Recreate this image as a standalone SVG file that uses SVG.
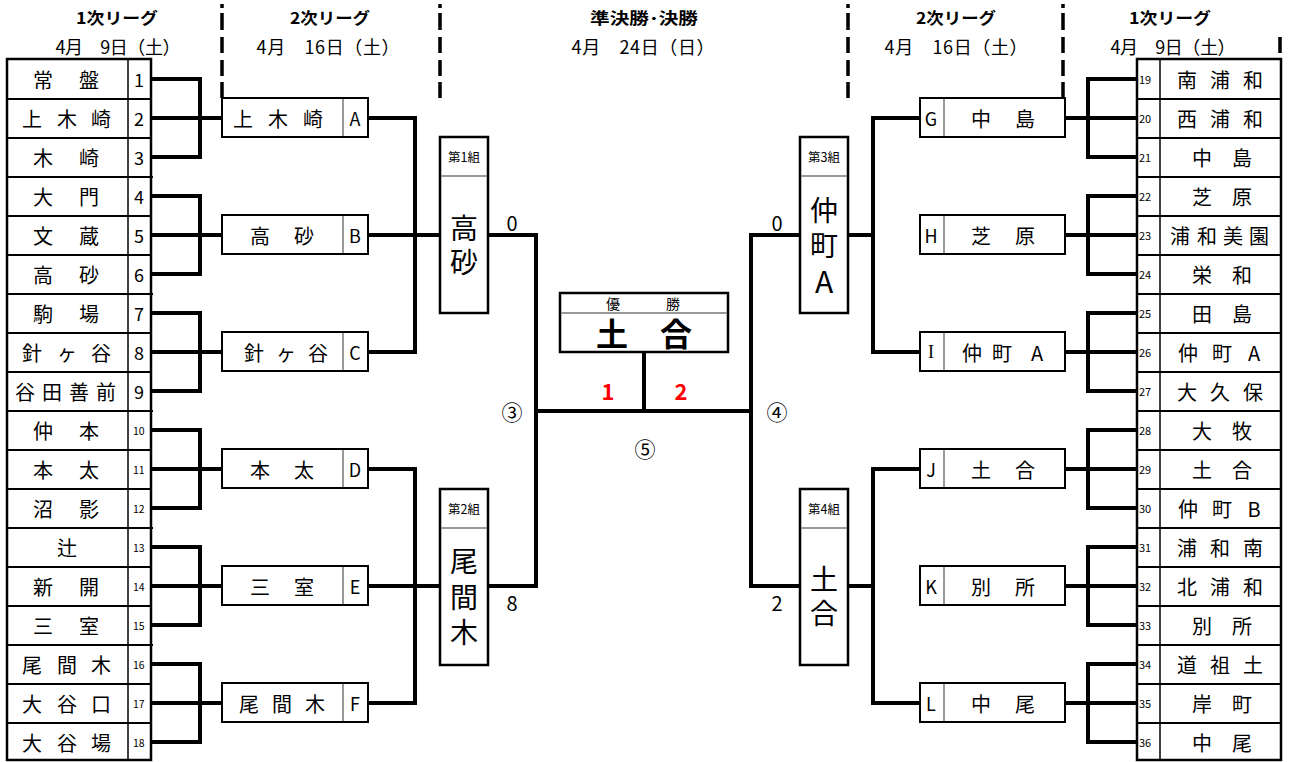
<svg xmlns="http://www.w3.org/2000/svg" width="1291" height="762" viewBox="0 0 1291 762">
<style>
text{font-family:"Noto Sans CJK JP","Noto Sans",sans-serif;fill:#000;dominant-baseline:central}
.ln{stroke:#000;stroke-width:4;fill:none;stroke-linejoin:miter}
.bx{fill:#fff;stroke:#000;stroke-width:2}
.gb{fill:#fff;stroke:#000;stroke-width:2.5}
.tb{fill:none;stroke:#000;stroke-width:2.5}
.rl{stroke:#000;stroke-width:2}
.rt{stroke:#000;stroke-width:1.5}
.sep{stroke:#999;stroke-width:2}
.dash{stroke:#000;stroke-width:3.5}
.nm{font-size:20px;text-anchor:middle}
.n1{font-size:18px;text-anchor:start}
.n2{font-size:10.5px;text-anchor:start}
.n3{font-size:11px;text-anchor:start}
.lt{font-size:18px;text-anchor:middle}
.ttl{font-size:16px;font-weight:bold;text-anchor:middle}
.dt{font-size:18px;text-anchor:middle}
.big{font-size:28px;text-anchor:middle}
.gl{font-size:12.5px;text-anchor:middle}
.sc{font-size:20px;text-anchor:middle}
.cn{font-size:21px;text-anchor:middle}
.red{font-size:22px;font-weight:bold;fill:#f00;text-anchor:middle}
</style>

<g id="headers">
<text class="ttl" x="117" y="17" textLength="82" lengthAdjust="spacingAndGlyphs">1次リーグ</text>
<text class="dt" x="118" y="46" textLength="125" lengthAdjust="spacing">4月　9日（土）</text>
<text class="ttl" x="330" y="17" textLength="80" lengthAdjust="spacingAndGlyphs">2次リーグ</text>
<text class="dt" x="328" y="46" textLength="143" lengthAdjust="spacing">4月　16日（土）</text>
<text class="ttl" x="644" y="17" textLength="108" lengthAdjust="spacingAndGlyphs">準決勝･決勝</text>
<text class="dt" x="643" y="46" textLength="143" lengthAdjust="spacing">4月　24日（日）</text>
<text class="ttl" x="956" y="17" textLength="80" lengthAdjust="spacingAndGlyphs">2次リーグ</text>
<text class="dt" x="956" y="46" textLength="143" lengthAdjust="spacing">4月　16日（土）</text>
<text class="ttl" x="1170" y="17" textLength="82" lengthAdjust="spacingAndGlyphs">1次リーグ</text>
<text class="dt" x="1173" y="46" textLength="125" lengthAdjust="spacing">4月　9日（土）</text>
<g class="dash">
<path d="M222 4V8M222 13V30M222 37V53M222 60V76M222 82V98"/>
<path d="M440 4V8M440 13V30M440 37V53M440 60V76M440 82V98"/>
<path d="M848 4V8M848 13V30M848 37V53M848 60V76M848 82V98"/>
<path d="M1063 4V8M1063 13V30M1063 37V53M1063 60V76M1063 82V98"/>
<path d="M1280 37V53"/>
</g>
</g>

<g id="connectors">
<path class="ln" d="M151 79H200V157H151M151 118H222M151 196H200V274H151M151 235H222M151 313H200V391H151M151 352H222M151 430H200V508H151M151 469H222M151 547H200V625H151M151 586H222M151 664H200V742H151M151 703H222"/>
<path class="ln" d="M368 118H415V352H368M368 235H440M368 469H415V703H368M368 586H440"/>
<path class="ln" d="M488 235H536V586H488M536 411H751M644 411V352M800 235H751V586H800"/>
<path class="ln" d="M848 235H873M920 118H873V352H920M848 586H873M920 469H873V703H920"/>
<path class="ln" d="M1137 79H1088V157H1137M1137 118H1065M1137 196H1088V274H1137M1137 235H1065M1137 313H1088V391H1137M1137 352H1065M1137 430H1088V508H1137M1137 469H1065M1137 547H1088V625H1137M1137 586H1065M1137 664H1088V742H1137M1137 703H1065"/>
</g>

<g id="left-table">
<rect class="tb" x="7" y="59" width="144" height="701"/>
<path class="rt" d="M128 59V760"/>
<path class="rl" d="M7 99H151M7 138H151M7 216H151M7 255H151M7 333H151M7 372H151M7 450H151M7 489H151M7 567H151M7 606H151M7 684H151M7 723H151"/>
<path class="rl" d="M7 177H153M7 294H153M7 411H153M7 528H153M7 645H153"/>
</g>
<g id="left-names">
<text class="nm" y="79"><tspan x="43">常</tspan><tspan x="89">盤</tspan></text>
<text class="nm" y="118"><tspan x="32">上</tspan><tspan x="67">木</tspan><tspan x="101">崎</tspan></text>
<text class="nm" y="157"><tspan x="43">木</tspan><tspan x="89">崎</tspan></text>
<text class="nm" y="196"><tspan x="43">大</tspan><tspan x="89">門</tspan></text>
<text class="nm" y="235"><tspan x="43">文</tspan><tspan x="89">蔵</tspan></text>
<text class="nm" y="274"><tspan x="43">高</tspan><tspan x="89">砂</tspan></text>
<text class="nm" y="313"><tspan x="43">駒</tspan><tspan x="89">場</tspan></text>
<text class="nm" y="352"><tspan x="32">針</tspan><tspan x="67">ヶ</tspan><tspan x="101">谷</tspan></text>
<text class="nm" y="391"><tspan x="25">谷</tspan><tspan x="52">田</tspan><tspan x="79">善</tspan><tspan x="106">前</tspan></text>
<text class="nm" y="430"><tspan x="43">仲</tspan><tspan x="89">本</tspan></text>
<text class="nm" y="469"><tspan x="43">本</tspan><tspan x="89">太</tspan></text>
<text class="nm" y="508"><tspan x="43">沼</tspan><tspan x="89">影</tspan></text>
<text class="nm" y="547" x="67">辻</text>
<text class="nm" y="586"><tspan x="43">新</tspan><tspan x="89">開</tspan></text>
<text class="nm" y="625"><tspan x="43">三</tspan><tspan x="89">室</tspan></text>
<text class="nm" y="664"><tspan x="32">尾</tspan><tspan x="67">間</tspan><tspan x="101">木</tspan></text>
<text class="nm" y="703"><tspan x="32">大</tspan><tspan x="67">谷</tspan><tspan x="101">口</tspan></text>
<text class="nm" y="742"><tspan x="32">大</tspan><tspan x="67">谷</tspan><tspan x="101">場</tspan></text>
<text class="n1" x="134" y="79">1</text>
<text class="n1" x="134" y="118">2</text>
<text class="n1" x="134" y="157">3</text>
<text class="n1" x="134" y="196">4</text>
<text class="n1" x="134" y="235">5</text>
<text class="n1" x="134" y="274">6</text>
<text class="n1" x="134" y="313">7</text>
<text class="n1" x="134" y="352">8</text>
<text class="n1" x="134" y="391">9</text>
<text class="n2" x="133" y="430">10</text>
<text class="n2" x="133" y="469">11</text>
<text class="n2" x="133" y="508">12</text>
<text class="n2" x="133" y="547">13</text>
<text class="n2" x="133" y="586">14</text>
<text class="n2" x="133" y="625">15</text>
<text class="n2" x="133" y="664">16</text>
<text class="n2" x="133" y="703">17</text>
<text class="n2" x="133" y="742">18</text>
</g>

<g id="right-table">
<rect class="tb" x="1137" y="59" width="144" height="701"/>
<path class="rt" d="M1160 59V760"/>
<path class="rl" d="M1137 99H1281M1137 138H1281M1137 216H1281M1137 255H1281M1137 333H1281M1137 372H1281M1137 450H1281M1137 489H1281M1137 567H1281M1137 606H1281M1137 684H1281M1137 723H1281"/>
<path class="rl" d="M1137 177H1281M1137 294H1281M1137 411H1281M1137 528H1281M1137 645H1281"/>
</g>
<g id="right-names">
<text class="nm" y="79"><tspan x="1187">南</tspan><tspan x="1220">浦</tspan><tspan x="1253">和</tspan></text>
<text class="nm" y="118"><tspan x="1187">西</tspan><tspan x="1220">浦</tspan><tspan x="1253">和</tspan></text>
<text class="nm" y="157"><tspan x="1202">中</tspan><tspan x="1242">島</tspan></text>
<text class="nm" y="196"><tspan x="1202">芝</tspan><tspan x="1242">原</tspan></text>
<text class="nm" y="235"><tspan x="1180">浦</tspan><tspan x="1207">和</tspan><tspan x="1233">美</tspan><tspan x="1259">園</tspan></text>
<text class="nm" y="274"><tspan x="1202">栄</tspan><tspan x="1242">和</tspan></text>
<text class="nm" y="313"><tspan x="1202">田</tspan><tspan x="1242">島</tspan></text>
<text class="nm" y="352"><tspan x="1188">仲</tspan><tspan x="1222">町</tspan><tspan x="1254">A</tspan></text>
<text class="nm" y="391"><tspan x="1187">大</tspan><tspan x="1220">久</tspan><tspan x="1253">保</tspan></text>
<text class="nm" y="430"><tspan x="1202">大</tspan><tspan x="1242">牧</tspan></text>
<text class="nm" y="469"><tspan x="1202">土</tspan><tspan x="1242">合</tspan></text>
<text class="nm" y="508"><tspan x="1188">仲</tspan><tspan x="1222">町</tspan><tspan x="1254">B</tspan></text>
<text class="nm" y="547"><tspan x="1187">浦</tspan><tspan x="1220">和</tspan><tspan x="1253">南</tspan></text>
<text class="nm" y="586"><tspan x="1187">北</tspan><tspan x="1220">浦</tspan><tspan x="1253">和</tspan></text>
<text class="nm" y="625"><tspan x="1202">別</tspan><tspan x="1242">所</tspan></text>
<text class="nm" y="664"><tspan x="1187">道</tspan><tspan x="1220">祖</tspan><tspan x="1253">土</tspan></text>
<text class="nm" y="703"><tspan x="1202">岸</tspan><tspan x="1242">町</tspan></text>
<text class="nm" y="742"><tspan x="1202">中</tspan><tspan x="1242">尾</tspan></text>
<text class="n3" x="1139" y="79">19</text>
<text class="n3" x="1139" y="118">20</text>
<text class="n3" x="1139" y="157">21</text>
<text class="n3" x="1139" y="196">22</text>
<text class="n3" x="1139" y="235">23</text>
<text class="n3" x="1139" y="274">24</text>
<text class="n3" x="1139" y="313">25</text>
<text class="n3" x="1139" y="352">26</text>
<text class="n3" x="1139" y="391">27</text>
<text class="n3" x="1139" y="430">28</text>
<text class="n3" x="1139" y="469">29</text>
<text class="n3" x="1139" y="508">30</text>
<text class="n3" x="1139" y="547">31</text>
<text class="n3" x="1139" y="586">32</text>
<text class="n3" x="1139" y="625">33</text>
<text class="n3" x="1139" y="664">34</text>
<text class="n3" x="1139" y="703">35</text>
<text class="n3" x="1139" y="742">36</text>
</g>

<g id="box-A"><rect class="bx" x="222" y="98" width="146" height="39"/><path class="sep" d="M343 99V136"/>
<text class="nm" y="118"><tspan x="243">上</tspan><tspan x="278">木</tspan><tspan x="313">崎</tspan></text><text class="lt" x="355" y="118">A</text></g>
<g id="box-B"><rect class="bx" x="222" y="215" width="146" height="39"/><path class="sep" d="M343 216V253"/>
<text class="nm" y="235"><tspan x="260">高</tspan><tspan x="304">砂</tspan></text><text class="lt" x="355" y="235">B</text></g>
<g id="box-C"><rect class="bx" x="222" y="332" width="146" height="39"/><path class="sep" d="M343 333V370"/>
<text class="nm" y="352"><tspan x="254">針</tspan><tspan x="286">ヶ</tspan><tspan x="318">谷</tspan></text><text class="lt" x="355" y="352">C</text></g>
<g id="box-D"><rect class="bx" x="222" y="449" width="146" height="39"/><path class="sep" d="M343 450V487"/>
<text class="nm" y="469"><tspan x="260">本</tspan><tspan x="304">太</tspan></text><text class="lt" x="355" y="469">D</text></g>
<g id="box-E"><rect class="bx" x="222" y="566" width="146" height="39"/><path class="sep" d="M343 567V604"/>
<text class="nm" y="586"><tspan x="260">三</tspan><tspan x="304">室</tspan></text><text class="lt" x="355" y="586">E</text></g>
<g id="box-F"><rect class="bx" x="222" y="683" width="146" height="39"/><path class="sep" d="M343 684V721"/>
<text class="nm" y="703"><tspan x="249">尾</tspan><tspan x="282">間</tspan><tspan x="315">木</tspan></text><text class="lt" x="355" y="703">F</text></g>

<g id="box-G"><rect class="bx" x="920" y="98" width="145" height="39"/><path class="sep" d="M944 99V136"/>
<text class="lt" x="931" y="118">G</text><text class="nm" y="118"><tspan x="981">中</tspan><tspan x="1025">島</tspan></text></g>
<g id="box-H"><rect class="bx" x="920" y="215" width="145" height="39"/><path class="sep" d="M944 216V253"/>
<text class="lt" x="931" y="235">H</text><text class="nm" y="235"><tspan x="981">芝</tspan><tspan x="1025">原</tspan></text></g>
<g id="box-I"><rect class="bx" x="920" y="332" width="145" height="39"/><path class="sep" d="M944 333V370"/>
<text class="lt" x="931" y="352" style="font-family:'Liberation Serif',serif">I</text><text class="nm" y="352"><tspan x="972">仲</tspan><tspan x="1002">町</tspan><tspan x="1037">A</tspan></text></g>
<g id="box-J"><rect class="bx" x="920" y="449" width="145" height="39"/><path class="sep" d="M944 450V487"/>
<text class="lt" x="931" y="469">J</text><text class="nm" y="469"><tspan x="981">土</tspan><tspan x="1025">合</tspan></text></g>
<g id="box-K"><rect class="bx" x="920" y="566" width="145" height="39"/><path class="sep" d="M944 567V604"/>
<text class="lt" x="931" y="586">K</text><text class="nm" y="586"><tspan x="981">別</tspan><tspan x="1025">所</tspan></text></g>
<g id="box-L"><rect class="bx" x="920" y="683" width="145" height="39"/><path class="sep" d="M944 684V721"/>
<text class="lt" x="931" y="703">L</text><text class="nm" y="703"><tspan x="981">中</tspan><tspan x="1025">尾</tspan></text></g>

<g id="group-1"><rect class="gb" x="440" y="137" width="48" height="176"/><path class="sep" d="M441 176H487"/>
<text class="gl" x="464" y="156">第1組</text>
<text class="big" x="464" y="227">高</text><text class="big" x="464" y="261">砂</text></g>
<g id="group-2"><rect class="gb" x="440" y="489" width="48" height="176"/><path class="sep" d="M441 528H487"/>
<text class="gl" x="464" y="508">第2組</text>
<text class="big" x="464" y="560">尾</text><text class="big" x="464" y="596">間</text><text class="big" x="464" y="631">木</text></g>
<g id="group-3"><rect class="gb" x="800" y="137" width="48" height="176"/><path class="sep" d="M801 176H847"/>
<text class="gl" x="824" y="156">第3組</text>
<text class="big" x="824" y="209">仲</text><text class="big" x="824" y="244">町</text><text class="big" x="824" y="280" style="font-size:30px">A</text></g>
<g id="group-4"><rect class="gb" x="800" y="489" width="48" height="176"/><path class="sep" d="M801 528H847"/>
<text class="gl" x="824" y="508">第4組</text>
<text class="big" x="824" y="578">土</text><text class="big" x="824" y="612">合</text></g>

<g id="winner"><rect class="gb" x="560" y="293" width="168" height="59"/><path class="sep" d="M561 313H727"/>
<text class="gl" y="303" style="font-size:14px"><tspan x="613">優</tspan><tspan x="673">勝</tspan></text>
<text class="big" y="332" style="font-size:32px;font-weight:bold"><tspan x="612">土</tspan><tspan x="676">合</tspan></text></g>

<g id="scores">
<text class="sc" x="512" y="222">0</text>
<text class="sc" x="512" y="602">8</text>
<text class="sc" x="777" y="222">0</text>
<text class="sc" x="777" y="602">2</text>
<text class="cn" x="512" y="411">③</text>
<text class="cn" x="777" y="411">④</text>
<text class="cn" x="645" y="448">⑤</text>
<text class="red" x="608" y="390">1</text>
<text class="red" x="681" y="390">2</text>
</g>
</svg>
